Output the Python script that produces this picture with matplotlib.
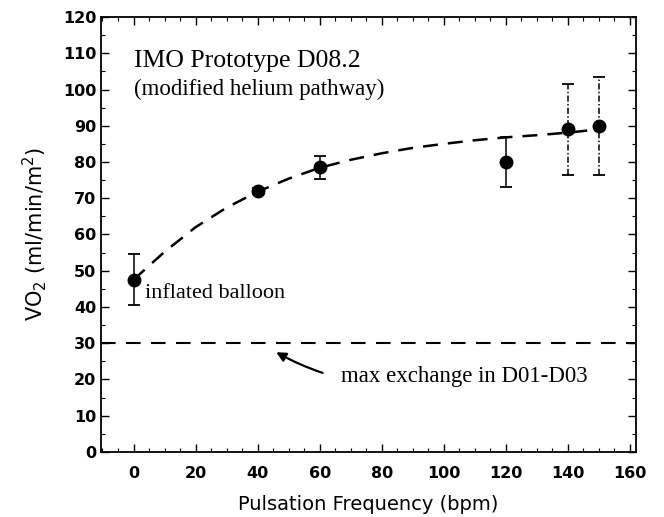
import matplotlib
matplotlib.use("Agg")
import matplotlib.pyplot as plt
from matplotlib.ticker import MultipleLocator

# Data
freq = [0, 40, 60, 120, 140, 150]
vo2 = [47.5, 72.0, 78.5, 80.0, 89.0, 90.0]
vo2_err = [7.0, 0.8, 3.2, 7.0, 12.5, 13.5]

# dashed fitted curve
curve_x = [0, 10, 20, 30, 40, 50, 60, 70, 80, 90, 100, 110, 120, 130, 140, 150]
curve_y = [47.5, 55.2, 62.0, 67.4, 71.8, 75.4, 78.4, 80.6, 82.4, 83.9, 85.0, 86.0, 86.8, 87.4, 88.1, 89.0]

threshold = 30

plt.rcParams['font.family'] = ['DejaVu Sans']
fig = plt.figure(figsize=(6.64, 5.17), dpi=100)
ax = fig.add_axes([0.152, 0.126, 0.806, 0.841])

ax.plot(curve_x, curve_y, color='black', lw=1.8, ls=(0, (6, 4)))
ax.axhline(threshold, color='black', lw=1.5, ls=(0, (7, 5)))

for i, (x, y, e) in enumerate(zip(freq, vo2, vo2_err)):
    eb = ax.errorbar(x, y, yerr=e, fmt='o', color='black', ms=9,
                     elinewidth=1.1, capsize=4, capthick=1.3)
    if i >= 4:
        eb[2][0].set_linestyle((0, (4, 1.5, 1, 1.5)))

ax.set_xlim(-10.5, 162)
ax.set_ylim(0, 120)
ax.xaxis.set_major_locator(MultipleLocator(20))
ax.yaxis.set_major_locator(MultipleLocator(10))
ax.xaxis.set_minor_locator(MultipleLocator(5))
ax.yaxis.set_minor_locator(MultipleLocator(5))
ax.tick_params(which='both', direction='in', top=True, right=True)
ax.tick_params(which='major', length=6, width=1, labelsize=11.5)
ax.tick_params(which='minor', length=3, width=0.8)
for lbl in ax.get_xticklabels() + ax.get_yticklabels():
    lbl.set_fontweight('bold')
ax.tick_params(axis='x', pad=10)
for s in ax.spines.values():
    s.set_linewidth(1.3)

ax.set_xlabel('Pulsation Frequency (bpm)', fontsize=14, labelpad=10)
ax.set_ylabel('VO$_2$ (ml/min/m$^2$)', fontsize=15, labelpad=10)

serif = ['Liberation Serif']
ax.text(0.3, 108, 'IMO Prototype D08.2', fontsize=18.5, family=serif, va='center')
ax.text(0.3, 100, '(modified helium pathway)', fontsize=16.5, family=serif, va='center')
ax.text(3.8, 43.8, 'inflated balloon', fontsize=16, family=serif, va='center')
ax.annotate('max exchange in D01-D03', xy=(46, 27.5), xytext=(67, 20.7),
            fontsize=16.5, family=serif, va='center',
            arrowprops=dict(arrowstyle='-|>', color='black', lw=1.6,
                            connectionstyle='arc3,rad=-0.2', shrinkA=12, shrinkB=0,
                            mutation_scale=14))

fig.savefig('out.png', dpi=100)
